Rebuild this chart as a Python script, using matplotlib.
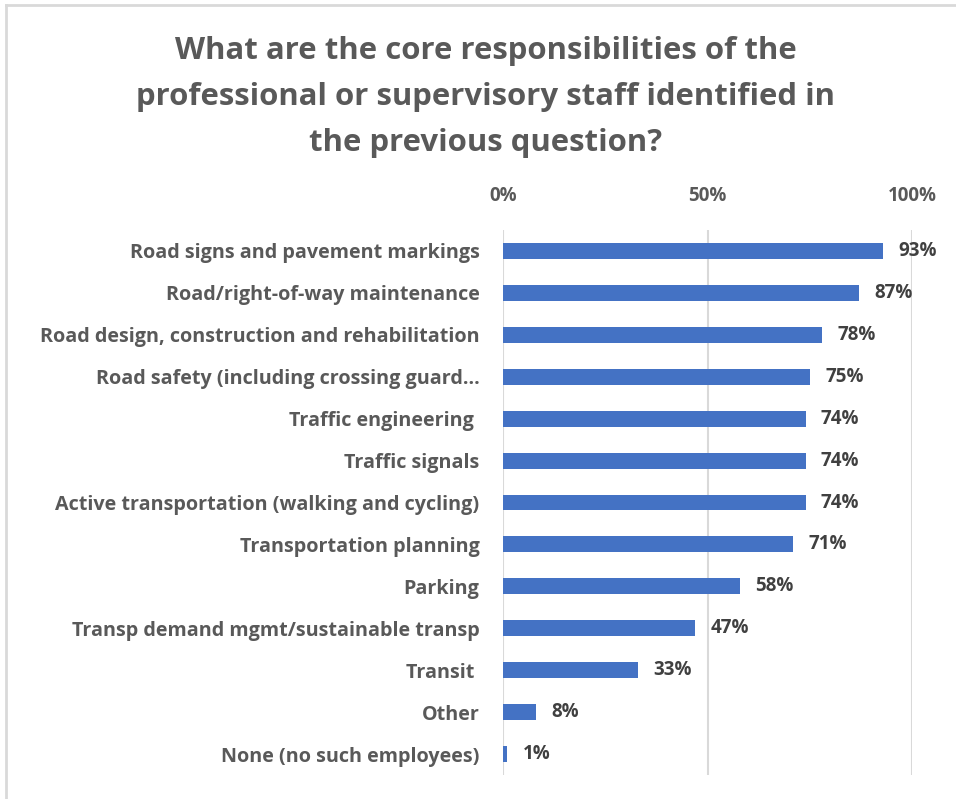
import matplotlib.pyplot as plt
from matplotlib.lines import Line2D

categorias = [
    "Road signs and pavement markings",
    "Road/right-of-way maintenance",
    "Road design, construction and rehabilitation",
    "Road safety (including crossing guard…",
    "Traffic engineering ",
    "Traffic signals",
    "Active transportation (walking and cycling)",
    "Transportation planning",
    "Parking",
    "Transp demand mgmt/sustainable transp",
    "Transit ",
    "Other",
    "None (no such employees)",
]
valores = [0.93, 0.87, 0.78, 0.75, 0.74, 0.74, 0.74, 0.71, 0.58, 0.47, 0.33, 0.08, 0.01]
rotulos = ["93%", "87%", "78%", "75%", "74%", "74%", "74%", "71%", "58%", "47%", "33%", "8%", "1%"]
ticks_x = [0, 0.5, 1.0]
ticks_x_rotulos = ["0%", "50%", "100%"]

titulo = ("What are the core responsibilities of the\n"
          "professional or supervisory staff identified in\n"
          "the previous question?")

cinza = "#595959"
azul = "#4472C4"
fonte = ["Open Sans", "DejaVu Sans"]

fig = plt.figure(figsize=(9.56, 7.99), dpi=100)
ax = fig.add_axes([503 / 956, 24 / 799, 409 / 956, 545 / 799])

pos = list(range(len(categorias)))
ax.barh(pos, valores, height=0.38, color=azul)
for y, v, r in zip(pos, valores, rotulos):
    ax.annotate(r, (v, y), xytext=(11, 0), textcoords="offset points",
                va="center", ha="left", fontsize=13.5, fontweight="bold",
                color="#404040", family=fonte)

ax.set_xlim(0, 1.0)
ax.set_ylim(12.5, -0.5)
ax.set_xticks(ticks_x)
ax.set_xticklabels(ticks_x_rotulos)
ax.set_yticks(pos)
ax.set_yticklabels(categorias)
ax.xaxis.tick_top()
ax.tick_params(axis="x", length=0, pad=17, labelsize=13.5, labelcolor=cinza)
ax.tick_params(axis="y", length=0, pad=17, labelsize=14.2, labelcolor=cinza)
for lab in ax.get_xticklabels() + ax.get_yticklabels():
    lab.set_fontweight("bold")
    lab.set_family(fonte)

ax.grid(axis="x", color="#d9d9d9", linewidth=1.5)
ax.set_axisbelow(True)
for s in ax.spines.values():
    s.set_visible(False)

fig.text(486 / 956, 1 - 97 / 799, titulo, ha="center", va="center",
         fontsize=22.4, fontweight="bold", color=cinza, family=fonte,
         linespacing=1.68)

# moldura parcial (topo e esquerda)
fig.add_artist(Line2D([6 / 956, 1], [1 - 5 / 799, 1 - 5 / 799],
                      color="#d9d9d9", linewidth=2, transform=fig.transFigure))
fig.add_artist(Line2D([6 / 956, 6 / 956], [0, 1 - 5 / 799],
                      color="#d9d9d9", linewidth=2, transform=fig.transFigure))

fig.savefig("out.png", dpi=100, facecolor="white")
